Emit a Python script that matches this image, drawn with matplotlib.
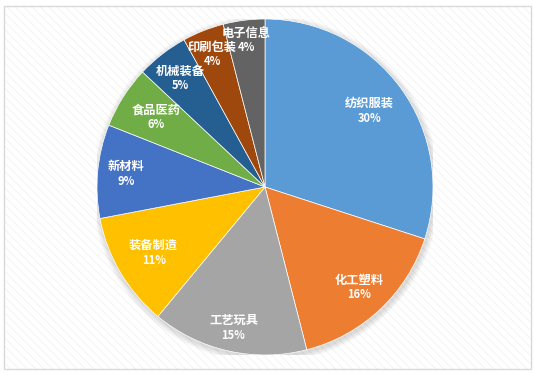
import matplotlib
matplotlib.use("Agg")
import numpy as np
import matplotlib.pyplot as plt
from matplotlib.patches import Rectangle, Circle

plt.rcParams['font.family'] = ['Noto Sans CJK SC', 'DejaVu Sans']
plt.rcParams['hatch.linewidth'] = 0.6

categories = ["纺织服装", "化工塑料", "工艺玩具", "装备制造", "新材料", "食品医药", "机械装备", "印刷包装", "电子信息"]
values = [30, 16, 15, 11, 9, 6, 5, 4, 4]
colors = ["#5B9BD5", "#ED7D31", "#A5A5A5", "#FFC000", "#4472C4", "#70AD47", "#255E91", "#9E480E", "#636363"]
# radial position of each label (fraction of radius)
label_r = [0.77, 0.82, 0.86, 0.77, 0.83, 0.77, 0.82, 0.85, 0.88]

W, H = 534, 375
fig = plt.figure(figsize=(W / 100, H / 100), dpi=100)
fig.patch.set_facecolor("white")

# background hatch and border
bg = Rectangle((4 / W, 6 / H), 527 / W, 363 / H, transform=fig.transFigure,
               facecolor="white", edgecolor="#f2f2f2", hatch="\\\\\\\\", linewidth=0, zorder=-5)
fig.patches.append(bg)
border = Rectangle((4 / W, 6 / H), 527 / W, 363 / H, transform=fig.transFigure,
                   facecolor="none", edgecolor="#d9d9d9", linewidth=1.0, zorder=10)
fig.patches.append(border)

cx, cy, r = 265, 187, 168
ax = fig.add_axes([(cx - r) / W, (H - cy - r) / H, 2 * r / W, 2 * r / H])
ax.set_facecolor("none")
ax.set_zorder(2)

# soft shadow
for k in range(6):
    ax.add_patch(Circle((0.006, -0.012), 1.0 + 0.006 * (6 - k), color="#000000",
                        alpha=0.022, lw=0, zorder=0))

wedges, _ = ax.pie(values, colors=colors, startangle=90, counterclock=False,
                   wedgeprops=dict(linewidth=0.5, edgecolor="white"))
for w, c, v, lr in zip(wedges, categories, values, label_r):
    ang = np.deg2rad((w.theta1 + w.theta2) / 2)
    pos = (lr * np.cos(ang), lr * np.sin(ang))
    ax.annotate(c, pos, xytext=(0, 5.2), textcoords="offset points", ha="center", va="center",
                color="white", fontsize=8.8, fontweight="bold", zorder=5)
    ax.annotate(f"{v}%", pos, xytext=(0, -5.2), textcoords="offset points", ha="center", va="center",
                color="white", fontsize=8, fontweight="bold", zorder=5)

ax.set_xlim(-1, 1)
ax.set_ylim(-1, 1)
ax.set_aspect("equal")
ax.axis("off")

fig.savefig("out.png", dpi=100)
